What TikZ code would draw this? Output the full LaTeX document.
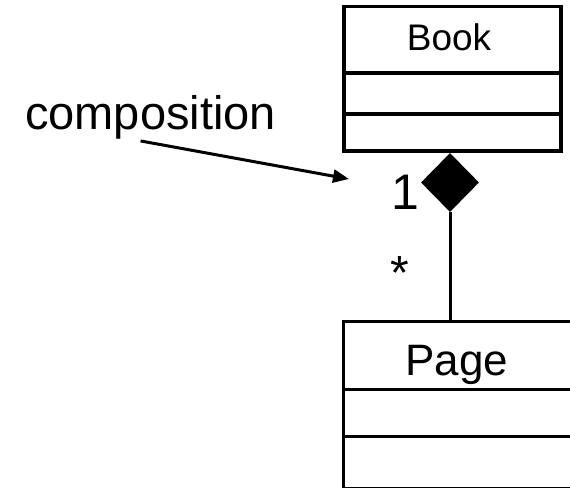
\documentclass[tikz,border=0pt]{standalone}
\usepackage{fontspec}
\setmainfont{Liberation Sans}
\usetikzlibrary{shapes.geometric,arrows.meta}
\begin{document}
\begin{tikzpicture}[x=1bp,y=-1bp,
  classbox/.style={draw,line width=3.5bp,inner sep=0pt,anchor=north west},
  divider/.style={line width=3.5bp},
  link/.style={line width=3bp},
  bigtext/.style={inner sep=0pt,anchor=base,font=\fontsize{#1}{#1}\selectfont}
]
\useasboundingbox (0,0) rectangle (570,488);

% class Book with its two empty compartments
\node[classbox,minimum width=217bp,minimum height=144bp] (book) at (342,5) {};
\draw[divider] (book.west |- 0,73) -- (book.east |- 0,73);
\draw[divider] (book.west |- 0,114) -- (book.east |- 0,114);
\node[bigtext=37bp] (booktitle) at (449,51) {Book};

% class Page, running off the right edge
\node[classbox,line width=3bp,minimum width=240bp,minimum height=167bp] (page) at (342,320) {};
\draw[link] (page.west |- 0,389) -- (page.east |- 0,389);
\draw[link] (page.west |- 0,436) -- (page.east |- 0,436);
\node[bigtext=44bp] (pagetitle) at (457,375) {Page};

% composition: filled diamond on the whole side
\node[diamond,fill=black,inner sep=0pt,minimum width=58bp,minimum height=59bp] (dia) at (450,182.5) {};
\draw[link] (dia.south) -- (dia.south |- page.north);

% multiplicities
\node[bigtext=50bp] (one) at (405,210) {1};
\node[bigtext=48bp] (many) at (400,289) {*};

% annotation
\node[inner sep=0pt,anchor=base west,font=\fontsize{47bp}{47bp}\selectfont] (comp) at (25,130) {composition};
\coordinate (tip) at (349,179);
\draw[link,-{Triangle[length=16bp,width=13bp]}] ([xshift=-10bp,yshift=-1bp]comp.south) -- (tip);
\end{tikzpicture}
\end{document}
